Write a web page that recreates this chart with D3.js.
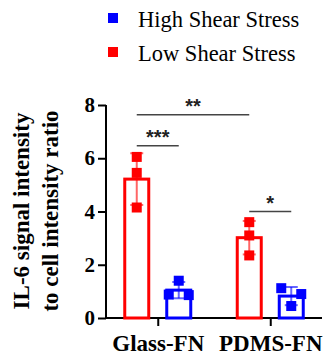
<!DOCTYPE html>
<html><head><meta charset="utf-8">
<script src="https://cdn.jsdelivr.net/npm/d3@7"></script>
<style>body{margin:0;background:#fff}svg{display:block}</style>
</head><body>
<script>
const groups = ["Glass-FN", "PDMS-FN"];
const seriesNames = ["Low Shear Stress", "High Shear Stress"];
const seriesKeys = ["Low", "High"];
const colors = ["#ff0000", "#0000ff"];
const lowPoints = [[6.05, 5.45, 4.15], [3.6, 3.1, 2.35]];
const highPoints = [[1.4, 0.88, 0.86], [1.12, 0.9, 0.45]];
const highJitter = [[0, -1, 1], [-1, 1, 0]];
const yTicks = [0, 2, 4, 6, 8];
const sigLabels = ["***", "**", "*"];

const W = 324, H = 356;
const svg = d3.select("body").append("svg").attr("width", W).attr("height", H);
const font = "'Liberation Serif','Times New Roman',serif";

const y = d3.scaleLinear().domain([0, 8]).range([318, 105]);
const x = d3.scalePoint().domain(groups).range([106, 322]).padding(0.46);
const xs = d3.scaleBand().domain(seriesKeys).range([-33, 33]).paddingInner(0.4286);

// axes
const yAxis = svg.append("g").attr("transform", "translate(106,0)")
  .call(d3.axisLeft(y).tickValues(yTicks).tickSize(8).tickPadding(3).tickFormat(d3.format("d")));
yAxis.select(".domain").attr("stroke", "#000").attr("stroke-width", 2).attr("d", "M0," + y(0) + "V" + y(8));
yAxis.selectAll(".tick line").attr("stroke", "#000").attr("stroke-width", 2);
yAxis.selectAll(".tick text").attr("font-family", font).attr("font-weight", "bold").attr("font-size", 21).attr("fill", "#000");

const xAxis = svg.append("g").attr("transform", "translate(0," + y(0) + ")")
  .call(d3.axisBottom(x).tickSize(8).tickPadding(9));
xAxis.select(".domain").attr("stroke", "#000").attr("stroke-width", 2).attr("d", "M105,0H322");
xAxis.selectAll(".tick line").attr("stroke", "#000").attr("stroke-width", 2);
xAxis.selectAll(".tick text").attr("font-family", font).attr("font-weight", "bold").attr("font-size", 23).attr("fill", "#000");

// y label
const yl = svg.append("text").attr("transform", "translate(29,211) rotate(-90)")
  .attr("text-anchor", "middle").attr("font-family", font).attr("font-weight", "bold").attr("font-size", 23);
yl.append("tspan").attr("x", 0).attr("y", 0).text("IL-6 signal intensity");
yl.append("tspan").attr("x", 0).attr("y", 29).text("to cell intensity ratio");

// bars
const allPoints = [lowPoints, highPoints];
seriesKeys.forEach((k, si) => {
  groups.forEach((g, gi) => {
    const pts = allPoints[si][gi];
    const m = d3.mean(pts), sd = d3.deviation(pts);
    const cx = x(g) + xs(k) + xs.bandwidth() / 2;
    const gg = svg.append("g");
    gg.append("rect").attr("x", x(g) + xs(k)).attr("width", xs.bandwidth())
      .attr("y", y(m)).attr("height", y(0) - y(m))
      .attr("fill", "#fff").attr("stroke", colors[si]).attr("stroke-width", 3);
    gg.append("line").attr("x1", cx).attr("x2", cx).attr("y1", y(m + sd)).attr("y2", y(m - sd))
      .attr("stroke", colors[si]).attr("stroke-width", 2).attr("stroke-opacity", 0.6);
    [m + sd, m - sd].forEach(v => gg.append("line").attr("x1", cx - 6.5).attr("x2", cx + 6.5)
      .attr("y1", y(v)).attr("y2", y(v)).attr("stroke", colors[si]).attr("stroke-width", 2).attr("stroke-opacity", 0.6));
    pts.forEach((v, pi) => {
      const j = si === 1 ? highJitter[gi][pi] * 10 : 0;
      gg.append("rect").attr("x", cx + j - 5).attr("y", y(v) - 5).attr("width", 10).attr("height", 10)
        .attr("fill", colors[si]);
    });
  });
});

// significance
const cxOf = (g, k) => x(g) + xs(k) + xs.bandwidth() / 2;
const sig = [
  {x1: cxOf("Glass-FN", "Low"), x2: cxOf("Glass-FN", "High"), v: 6.47},
  {x1: cxOf("Glass-FN", "Low"), x2: cxOf("PDMS-FN", "Low"), v: 7.63},
  {x1: cxOf("PDMS-FN", "Low"), x2: cxOf("PDMS-FN", "High"), v: 4.0}
];
sig.forEach((s, i) => {
  svg.append("line").attr("x1", s.x1).attr("x2", s.x2).attr("y1", y(s.v)).attr("y2", y(s.v))
    .attr("stroke", "#444").attr("stroke-width", 1.5);
  svg.append("text").attr("x", (s.x1 + s.x2) / 2).attr("y", y(s.v) - 2)
    .attr("text-anchor", "middle").attr("font-family", "'Liberation Sans',Arial,sans-serif").attr("font-weight", "bold")
    .attr("font-size", 20).attr("fill", "#222").text(sigLabels[i]);
});

// legend
const legendOrder = [1, 0];
legendOrder.forEach((si, i) => {
  const cy = 18 + i * 34;
  svg.append("rect").attr("x", 108).attr("y", cy - 5).attr("width", 10).attr("height", 10).attr("fill", colors[si]);
  svg.append("text").attr("x", 138).attr("y", cy + 8.5).attr("font-family", font).attr("font-size", 22.5)
    .attr("fill", "#000").text(seriesNames[si]);
});
</script>
</body></html>
